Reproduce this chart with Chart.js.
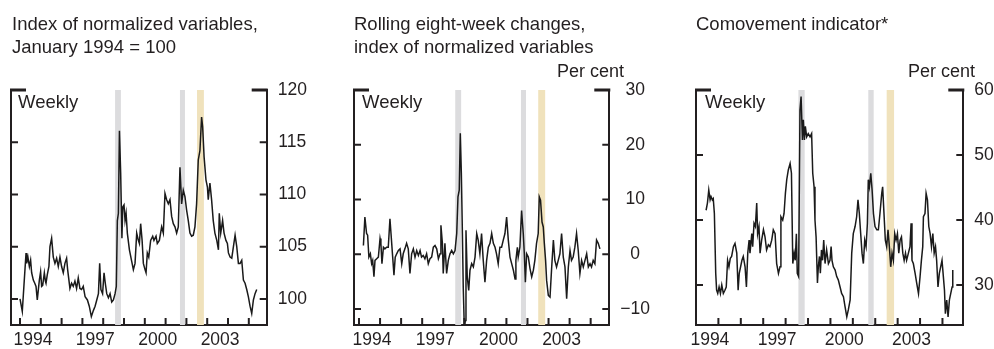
<!DOCTYPE html>
<html><head><meta charset="utf-8">
<script src="https://cdn.jsdelivr.net/npm/chart.js@4/dist/chart.umd.min.js"></script>
<style>
html,body{margin:0;padding:0;background:#fff;}
#wrap{position:relative;width:994px;height:349px;overflow:hidden;font-family:"Liberation Sans",Arial,sans-serif;color:#231f20;}
canvas{position:absolute;top:0;}
.t{position:absolute;font-size:18px;line-height:23px;white-space:nowrap;}
.h{font-size:18.5px;}
</style></head><body>
<div id="wrap">
<canvas id="c1" width="330" height="349" style="left:0px"></canvas>
<canvas id="c2" width="330" height="349" style="left:330px"></canvas>
<canvas id="c3" width="334" height="349" style="left:660px"></canvas>
<div class="t h" style="left:12px;top:12px">Index of normalized variables,<br>January 1994 = 100</div>
<div class="t h" style="left:354px;top:12px">Rolling eight-week changes,<br>index of normalized variables</div>
<div class="t h" style="left:696px;top:12px">Comovement indicator*</div>
<div class="t" style="left:557px;top:60px">Per cent</div>
<div class="t" style="left:908px;top:60px">Per cent</div>
<div class="t h" style="left:18px;top:90px">Weekly</div>
<div class="t h" style="left:362px;top:90px">Weekly</div>
<div class="t h" style="left:705px;top:90px">Weekly</div>
</div>
<script>
// ---------- data ----------
const labelYears = [1994, 1997, 2000, 2003];
const bandStart = [1998.57, 2001.69, 2002.51];
const bandEnd   = [1998.85, 2001.93, 2002.84];
const bandKind  = ['grey', 'grey', 'tan'];

const p1Ticks = [100, 105, 110, 115, 120];
const p2Ticks = [-10, 0, 10, 20, 30];
const p3Ticks = [30, 40, 50, 60];

// Panel 1: index of normalized variables (Jan 1994 = 100)
const p1Dates = [
1994.00,1994.11,1994.19,1994.29,1994.32,1994.38,1994.45,1994.51,1994.56,1994.64,
1994.71,1994.77,1994.83,1994.93,1994.99,1995.04,1995.09,1995.17,1995.22,1995.25,
1995.31,1995.39,1995.44,1995.52,1995.60,1995.68,1995.76,1995.84,1995.92,1996.00,
1996.08,1996.16,1996.24,1996.29,1996.40,1996.48,1996.56,1996.64,1996.72,1996.80,
1996.88,1996.96,1997.04,1997.13,1997.24,1997.33,1997.43,1997.53,1997.61,1997.69,
1997.77,1997.83,1997.89,1997.97,1998.04,1998.10,1998.17,1998.25,1998.33,1998.41,
1998.49,1998.57,1998.63,1998.68,1998.73,1998.78,1998.84,1998.90,1998.94,1999.00,
1999.05,1999.10,1999.16,1999.26,1999.37,1999.45,1999.53,1999.61,1999.69,1999.74,
1999.80,1999.87,1999.93,2000.01,2000.06,2000.12,2000.19,2000.28,2000.38,2000.44,
2000.54,2000.60,2000.70,2000.81,2000.89,2000.97,2001.05,2001.13,2001.21,2001.29,
2001.37,2001.45,2001.53,2001.61,2001.69,2001.77,2001.85,2001.93,2002.01,2002.09,
2002.17,2002.25,2002.33,2002.41,2002.49,2002.57,2002.65,2002.73,2002.78,2002.85,
2002.94,2003.01,2003.05,2003.13,2003.21,2003.29,2003.37,2003.46,2003.54,2003.58,
2003.65,2003.74,2003.81,2003.90,2003.97,2004.02,2004.10,2004.18,2004.26,2004.34,
2004.42,2004.50,2004.58,2004.66,2004.74,2004.82,2004.90,2004.98,2005.06,2005.14,
2005.22,2005.30,2005.38];
const p1Values = [
100.0,98.8,101.3,104.4,103.4,104.0,103.1,103.7,102.5,101.8,
101.5,101.2,99.9,101.8,102.6,101.2,101.3,102.5,101.7,101.5,
102.3,103.1,105.0,105.8,104.0,103.4,103.9,103.1,104.0,103.1,
102.5,103.4,103.9,102.8,101.0,101.5,101.2,101.7,101.0,102.0,
101.0,100.9,101.2,100.2,99.9,99.3,98.3,98.9,99.3,99.9,
100.5,103.4,100.9,100.5,102.5,101.5,100.5,100.1,100.5,99.7,
99.9,100.5,101.2,107.5,108.2,116.1,112.0,105.8,108.8,109.0,
107.5,108.2,106.3,104.7,103.6,102.8,103.4,106.3,105.6,105.3,
107.2,105.6,103.4,102.8,102.5,104.4,104.0,105.6,106.0,105.6,
106.0,105.3,105.6,106.9,106.3,110.1,109.5,109.1,109.5,107.9,
107.2,106.9,106.3,106.9,112.6,109.1,110.4,109.8,108.5,107.5,
106.3,106.0,106.1,106.9,109.1,113.3,114.2,117.4,116.5,113.6,
111.4,110.7,109.5,111.1,109.5,107.5,106.3,105.6,104.7,108.2,
106.3,107.5,106.3,105.6,105.3,104.4,104.0,103.9,105.0,106.1,
105.0,103.4,103.4,103.7,101.8,101.5,100.9,100.2,99.3,98.6,
99.9,100.5,100.9];

// Panel 2: rolling eight-week changes, per cent
const p2Dates = [
1994.21,1994.28,1994.36,1994.41,1994.47,1994.54,1994.60,1994.65,1994.71,1994.76,
1994.84,1994.92,1995.00,1995.04,1995.09,1995.16,1995.23,1995.31,1995.39,1995.47,
1995.52,1995.60,1995.66,1995.72,1995.79,1995.87,1995.95,1996.03,1996.10,1996.18,
1996.26,1996.34,1996.42,1996.50,1996.58,1996.66,1996.74,1996.82,1996.90,1996.97,
1997.05,1997.13,1997.21,1997.29,1997.37,1997.45,1997.53,1997.61,1997.69,1997.77,
1997.85,1997.89,1997.96,1998.00,1998.08,1998.16,1998.24,1998.32,1998.40,1998.48,
1998.56,1998.64,1998.70,1998.76,1998.81,1998.86,1998.91,1998.95,1999.00,1999.05,
1999.08,1999.14,1999.21,1999.27,1999.35,1999.43,1999.51,1999.59,1999.66,1999.74,
1999.82,1999.90,1999.98,2000.06,2000.14,2000.22,2000.30,2000.38,2000.46,2000.53,
2000.61,2000.69,2000.77,2000.85,2000.93,2001.01,2001.09,2001.17,2001.25,2001.33,
2001.41,2001.45,2001.52,2001.56,2001.64,2001.72,2001.80,2001.85,2001.90,2001.96,
2002.04,2002.12,2002.20,2002.28,2002.35,2002.43,2002.51,2002.56,2002.62,2002.69,
2002.75,2002.80,2002.86,2002.91,2002.99,2003.07,2003.15,2003.23,2003.30,2003.38,
2003.46,2003.54,2003.62,2003.70,2003.78,2003.86,2003.94,2004.02,2004.09,2004.17,
2004.25,2004.33,2004.41,2004.49,2004.57,2004.65,2004.73,2004.81,2004.89,2004.97,
2005.04,2005.12,2005.20,2005.28,2005.36,2005.44];
const p2Values = [
1.6,6.8,3.8,3.5,-0.5,0.1,-1.7,-1.1,-4.1,-1.1,
-0.8,-0.5,2.9,2.0,-1.7,1.3,1.0,1.3,1.3,6.5,
3.8,-0.5,-3.8,-0.5,0.1,0.7,1.0,-1.7,0.1,1.0,
2.0,1.0,-3.5,0.1,1.0,-0.5,0.7,-0.2,0.7,-0.5,
-0.2,-0.8,0.1,-1.7,-0.8,-0.5,1.3,1.6,1.0,-0.8,
0.1,5.3,2.0,-3.5,2.0,-3.5,-1.1,0.1,0.7,0.1,
0.7,3.8,10.5,11.7,22.1,14.8,3.8,-6.0,-13.3,-12.1,
4.4,-4.1,-6.6,-2.9,-1.7,-2.3,-0.5,3.8,2.6,0.1,
3.8,-1.1,-5.1,-1.1,1.3,2.0,3.8,2.0,1.3,0.1,
-1.7,1.3,1.3,2.6,3.8,6.8,2.6,-0.5,-1.7,-2.9,
-4.5,-1.1,1.3,-0.5,1.3,8.0,3.8,0.1,-5.1,0.1,
-0.5,-2.6,-4.1,-2.9,-1.1,2.0,3.8,10.5,9.9,5.9,
5.0,2.0,-1.1,-4.8,-7.5,-7.8,-2.3,2.6,-1.1,-2.3,
-1.1,0.1,3.8,-0.5,-2.3,-8.1,-2.3,0.7,-1.1,-0.5,
1.3,3.8,0.7,-3.5,-1.1,-2.3,-1.1,0.1,-2.3,-1.7,
-2.3,-1.1,-1.7,2.6,2.0,1.0];

// Panel 3: comovement indicator, per cent
const p3Dates = [
1994.45,1994.51,1994.57,1994.63,1994.67,1994.73,1994.77,1994.82,1994.88,1994.92,
1994.97,1995.03,1995.09,1995.15,1995.22,1995.29,1995.35,1995.41,1995.47,1995.53,
1995.59,1995.67,1995.74,1995.82,1995.88,1995.93,1995.99,1996.05,1996.11,1996.19,
1996.25,1996.31,1996.37,1996.41,1996.49,1996.53,1996.59,1996.65,1996.71,1996.75,
1996.81,1996.86,1996.93,1997.01,1997.08,1997.15,1997.23,1997.30,1997.38,1997.45,
1997.53,1997.60,1997.68,1997.75,1997.79,1997.87,1997.93,1997.99,1998.05,1998.12,
1998.20,1998.26,1998.32,1998.38,1998.43,1998.48,1998.52,1998.58,1998.64,1998.69,
1998.75,1998.79,1998.84,1998.88,1998.94,1999.01,1999.09,1999.16,1999.21,1999.27,
1999.31,1999.36,1999.42,1999.46,1999.51,1999.55,1999.60,1999.65,1999.70,1999.76,
1999.83,1999.91,1999.98,2000.03,2000.07,2000.13,2000.21,2000.28,2000.35,2000.43,
2000.50,2000.58,2000.65,2000.73,2000.80,2000.88,2000.95,2001.02,2001.10,2001.17,
2001.23,2001.29,2001.35,2001.41,2001.47,2001.53,2001.59,2001.65,2001.69,2001.74,
2001.80,2001.86,2001.92,2001.99,2002.07,2002.14,2002.21,2002.29,2002.33,2002.39,
2002.45,2002.51,2002.57,2002.63,2002.69,2002.75,2002.81,2002.87,2002.93,2002.99,
2003.05,2003.11,2003.17,2003.23,2003.29,2003.35,2003.40,2003.48,2003.55,2003.60,
2003.64,2003.70,2003.78,2003.85,2003.93,2004.00,2004.06,2004.12,2004.15,2004.22,
2004.27,2004.33,2004.39,2004.45,2004.51,2004.57,2004.63,2004.69,2004.74,2004.80,
2004.86,2004.92,2004.98,2005.04,2005.09,2005.13,2005.19,2005.25,2005.31,2005.37,
2005.43,2005.46];
const p3Values = [
41.5,42.6,44.6,43.1,43.6,43.1,43.3,41.0,31.8,29.2,
28.7,29.7,28.7,30.0,28.7,29.2,29.7,33.8,32.8,34.1,
34.4,35.9,36.4,34.9,29.2,31.8,32.8,33.8,34.4,32.8,
29.7,34.9,36.9,34.9,37.9,35.9,39.5,39.0,42.6,37.9,
39.0,34.9,36.9,38.5,37.4,35.4,36.2,35.9,36.9,38.5,
37.9,33.3,31.8,32.8,40.5,40.0,41.0,44.1,46.2,47.7,
48.7,47.2,33.3,34.9,33.8,37.9,31.8,31.3,56.9,59.0,
52.3,55.4,52.3,54.4,52.8,53.3,52.8,53.3,47.2,45.1,
40.0,37.4,30.3,32.8,34.4,31.8,35.4,33.8,36.9,33.3,
35.4,33.3,33.8,35.9,33.8,32.8,32.3,31.3,30.8,29.7,
28.7,28.2,26.7,25.1,26.2,27.7,34.9,37.9,39.0,40.5,
43.1,41.0,37.9,34.9,33.3,36.9,35.9,39.5,46.2,45.1,
47.2,44.6,41.0,39.0,38.5,38.5,41.0,44.1,45.1,41.0,
36.9,35.9,38.5,35.9,32.8,34.9,33.8,37.9,36.9,37.9,
34.9,36.9,37.4,34.9,33.8,34.9,33.8,34.9,35.9,39.5,
33.8,33.3,31.8,30.3,28.7,31.3,33.8,35.9,40.5,41.0,
44.1,43.1,39.0,37.9,35.9,37.9,34.9,35.9,33.8,29.7,
31.8,32.8,33.8,31.3,29.2,25.6,27.7,25.1,27.7,28.7,
29.7,32.3];

// ---------- styles ----------
const INK = '#231f20';
const LINE = '#1a1a1a';
const GREY = '#dcdcde';
const TAN = '#f0e2bc';
const FONT = '"Liberation Sans", Arial, sans-serif';
const LABEL_OFFSET = 0.62;

const furniture = {
  id: 'furniture',
  beforeDatasetsDraw(chart) {
    const {ctx, chartArea: a, scales: {x}} = chart;
    ctx.save();
    bandStart.forEach((s, i) => {
      const x0 = x.getPixelForValue(s), x1 = x.getPixelForValue(bandEnd[i]);
      ctx.fillStyle = bandKind[i] === 'tan' ? TAN : GREY;
      ctx.fillRect(x0, a.top, x1 - x0, a.bottom - a.top);
    });
    ctx.restore();
  },
  afterDraw(chart) {
    const {ctx, chartArea: a, scales: {x, y}} = chart;
    ctx.save();
    ctx.strokeStyle = INK;
    ctx.lineWidth = 2;
    ctx.beginPath();
    for (let yr = Math.ceil(x.min); yr <= Math.floor(x.max); yr++) {
      const px = x.getPixelForValue(yr);
      ctx.moveTo(px, a.bottom); ctx.lineTo(px, a.bottom - 7);
    }
    y.ticks.forEach(t => {
      if (t.value >= y.max) return;
      const py = y.getPixelForValue(t.value);
      ctx.moveTo(a.left, py); ctx.lineTo(a.left + 7, py);
      ctx.moveTo(a.right - 7, py); ctx.lineTo(a.right, py);
    });
    ctx.stroke();
    ctx.lineWidth = 3;
    ctx.beginPath();
    ctx.moveTo(a.left - 1, a.top); ctx.lineTo(a.left + 15, a.top);
    ctx.moveTo(a.right - 15, a.top); ctx.lineTo(a.right + 1, a.top);
    ctx.stroke();
    ctx.restore();
  }
};

function makeChart(id, dates, values, cfg) {
  const pts = dates.map((d, i) => ({x: d, y: values[i]}));
  const tickFont = {family: FONT, size: 17.5};
  return new Chart(document.getElementById(id), {
    type: 'line',
    data: {datasets: [{data: pts, borderColor: LINE, borderWidth: 1.5, pointRadius: 0, tension: 0, fill: false}]},
    options: {
      responsive: false, animation: false, devicePixelRatio: 1,
      layout: {padding: {left: cfg.padLeft, top: 90, right: 0, bottom: 0}},
      plugins: {legend: {display: false}, tooltip: {enabled: false}},
      scales: {
        x: {
          type: 'linear', position: 'bottom', min: cfg.xMin, max: cfg.xMax,
          afterBuildTicks: s => { s.ticks = labelYears.map(v => ({value: v + LABEL_OFFSET})); },
          afterFit: s => { s.height = 24; },
          ticks: {autoSkip: false, maxRotation: 0, padding: 5, color: INK, font: tickFont,
                  callback: v => String(Math.floor(v))},
          grid: {display: false, drawTicks: false},
          border: {display: true, color: INK, width: 2}
        },
        y: {
          type: 'linear', position: 'right', min: cfg.yMin, max: cfg.yMax,
          afterBuildTicks: s => { s.ticks = cfg.yTicks.map(v => ({value: v})); },
          afterFit: s => { s.width = cfg.rightW; },
          ticks: {padding: 11, crossAlign: 'center', color: INK, font: tickFont,
                  callback: v => v < 0 ? '\u2212' + Math.abs(v) : String(v)},
          grid: {display: false, drawTicks: false},
          border: {display: true, color: INK, width: 2}
        },
        yl: {
          type: 'linear', position: 'left', min: cfg.yMin, max: cfg.yMax,
          afterFit: s => { s.width = 0; },
          ticks: {display: false},
          grid: {display: false, drawTicks: false},
          border: {display: true, color: INK, width: 2}
        }
      }
    },
    plugins: [furniture]
  });
}

makeChart('c1', p1Dates, p1Values, {padLeft: 11, rightW: 63.3, xMin: 1993.567, xMax: 2005.86, yMin: 97.5, yMax: 120, yTicks: p1Ticks});
makeChart('c2', p2Dates, p2Values, {padLeft: 24, rightW: 50.7, xMin: 1993.763, xMax: 2005.885, yMin: -12.9, yMax: 30, yTicks: p2Ticks});
makeChart('c3', p3Dates, p3Values, {padLeft: 36, rightW: 30.7, xMin: 1994.0, xMax: 2005.93, yMin: 23.85, yMax: 60, yTicks: p3Ticks});
</script>
</body></html>
